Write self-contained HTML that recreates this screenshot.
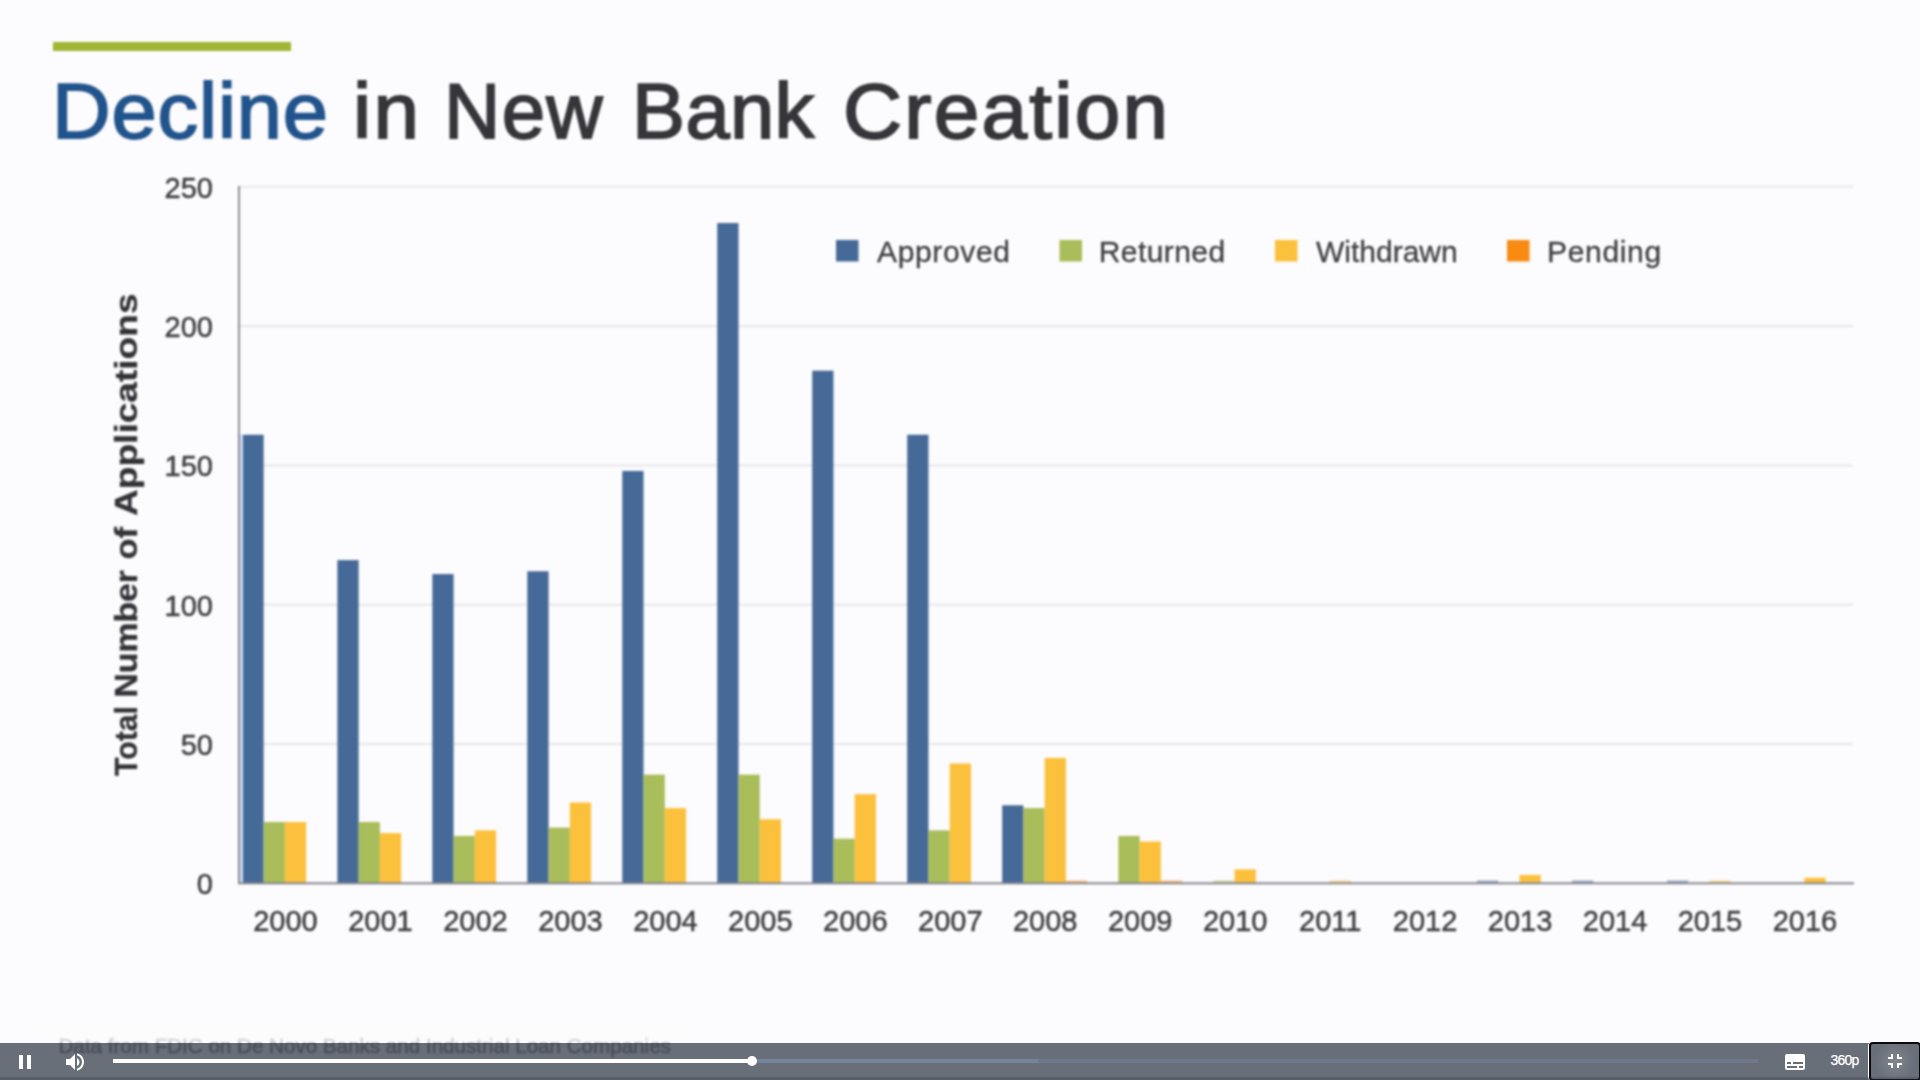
<!DOCTYPE html>
<html lang="en">
<head>
<meta charset="utf-8">
<title>Decline in New Bank Creation</title>
<style>
html,body{margin:0;padding:0;width:1920px;height:1080px;overflow:hidden;background:#fcfbfd;}
body{font-family:"Liberation Sans",sans-serif;position:relative;}
#slide{position:absolute;left:0;top:0;width:1920px;height:1080px;background:#fcfbfd;filter:blur(0.85px);}
#rule{position:absolute;left:53px;top:42px;width:238px;height:9px;background:#a0b533;}
#title{position:absolute;left:51px;top:62.5px;width:1200px;height:96px;margin:0;font-size:78px;line-height:96px;font-weight:400;color:#36353a;white-space:nowrap;letter-spacing:0px;-webkit-text-stroke:1.8px currentColor;}
#title span{position:absolute;top:0;display:inline-block;transform-origin:0 50%;}
#title .w1{color:#21548c;left:0.5px;letter-spacing:0.87px;transform:scaleX(1.04);}
#title .w2{left:302px;letter-spacing:2.2px;transform:scaleX(1.05);}
#title .w3{left:393px;letter-spacing:1.3px;}
#title .w4{left:580.5px;letter-spacing:0.33px;transform:scaleX(1.02);}
#title .w5{left:792px;letter-spacing:2.1px;transform:scaleX(1.05);}
#chart{position:absolute;left:0;top:0;}
.ax{font-family:"Liberation Sans",sans-serif;font-size:29px;fill:#403f44;stroke:#403f44;stroke-width:0.5px;}
.yt{font-family:"Liberation Sans",sans-serif;font-size:31px;font-weight:700;fill:#333237;stroke:#333237;stroke-width:0.3px;}
.lg{font-family:"Liberation Sans",sans-serif;font-size:30px;fill:#3e3d42;stroke:#3e3d42;stroke-width:0.3px;}
#src{position:absolute;left:58.5px;top:1031.5px;font-size:20.6px;line-height:28px;color:#8e8e95;white-space:nowrap;font-weight:400;-webkit-text-stroke:0.6px currentColor;}
#veil{position:absolute;left:40px;top:1026px;width:660px;height:17px;background:rgba(252,251,253,0.62);}
#bar{position:absolute;left:0;top:1043px;width:1920px;height:37px;background:rgba(43,51,63,0.7);}
#bar:after{content:"";position:absolute;left:0;right:0;bottom:0;height:4.5px;background:linear-gradient(rgba(43,51,63,0),rgba(43,51,63,0.3) 60%,rgba(43,51,63,0.3));}
.ic{position:absolute;top:6.5px;width:24px;height:24px;fill:#fff;}
#track{position:absolute;left:112.5px;top:16px;width:1645.5px;height:4px;background:rgba(115,133,159,0.5);}
#load{position:absolute;left:0;top:0;height:100%;width:925px;background:rgba(115,133,159,0.9);}
#play{position:absolute;left:0;top:0;height:100%;width:639px;background:#fff;}
#knob{position:absolute;left:634px;top:-3.2px;width:10.4px;height:10.4px;border-radius:50%;background:#fff;}
#q{position:absolute;left:1819.5px;top:0.3px;width:50px;height:37px;line-height:35px;-webkit-text-stroke:0.25px #fff;text-align:center;color:#fff;font-size:14px;letter-spacing:-0.75px;}
#fs{position:absolute;left:1869px;top:-1px;width:52px;height:39px;box-sizing:border-box;border:2px solid #0a0a0c;border-radius:4px;box-shadow:0 0 0 1px #fff;background:radial-gradient(circle at 50% 50%,rgba(255,255,255,0.17),rgba(255,255,255,0.05) 45%,rgba(255,255,255,0) 70%);}
</style>
</head>
<body>
<div id="slide">
<div id="rule"></div>
<h1 id="title"><span class="w1">Decline</span> <span class="w2">in</span> <span class="w3">New</span> <span class="w4">Bank</span> <span class="w5">Creation</span></h1>
<svg id="chart" width="1920" height="1080" viewBox="0 0 1920 1080">
<rect x="240" y="743.0" width="1613" height="2" fill="#e7e6ea"/>
<rect x="240" y="603.7" width="1613" height="2" fill="#e7e6ea"/>
<rect x="240" y="464.4" width="1613" height="2" fill="#e7e6ea"/>
<rect x="240" y="325.1" width="1613" height="2" fill="#e7e6ea"/>
<rect x="240" y="185.8" width="1613" height="2" fill="#e7e6ea"/>
<rect x="242.40" y="434.75" width="21.25" height="448.55" fill="#466a98"/>
<rect x="263.65" y="822.01" width="21.25" height="61.29" fill="#a9bd5a"/>
<rect x="284.90" y="822.01" width="21.25" height="61.29" fill="#fcc13c"/>
<rect x="337.37" y="560.12" width="21.25" height="323.18" fill="#466a98"/>
<rect x="358.62" y="822.01" width="21.25" height="61.29" fill="#a9bd5a"/>
<rect x="379.87" y="833.15" width="21.25" height="50.15" fill="#fcc13c"/>
<rect x="432.34" y="574.05" width="21.25" height="309.25" fill="#466a98"/>
<rect x="453.59" y="835.94" width="21.25" height="47.36" fill="#a9bd5a"/>
<rect x="474.84" y="830.37" width="21.25" height="52.93" fill="#fcc13c"/>
<rect x="527.31" y="571.27" width="21.25" height="312.03" fill="#466a98"/>
<rect x="548.56" y="827.58" width="21.25" height="55.72" fill="#a9bd5a"/>
<rect x="569.81" y="802.51" width="21.25" height="80.79" fill="#fcc13c"/>
<rect x="622.28" y="470.97" width="21.25" height="412.33" fill="#466a98"/>
<rect x="643.53" y="774.65" width="21.25" height="108.65" fill="#a9bd5a"/>
<rect x="664.78" y="808.08" width="21.25" height="75.22" fill="#fcc13c"/>
<rect x="717.25" y="223.02" width="21.25" height="660.28" fill="#466a98"/>
<rect x="738.50" y="774.65" width="21.25" height="108.65" fill="#a9bd5a"/>
<rect x="759.75" y="819.22" width="21.25" height="64.08" fill="#fcc13c"/>
<rect x="812.22" y="370.68" width="21.25" height="512.62" fill="#466a98"/>
<rect x="833.47" y="838.72" width="21.25" height="44.58" fill="#a9bd5a"/>
<rect x="854.72" y="794.15" width="21.25" height="89.15" fill="#fcc13c"/>
<rect x="907.19" y="434.75" width="21.25" height="448.55" fill="#466a98"/>
<rect x="928.44" y="830.37" width="21.25" height="52.93" fill="#a9bd5a"/>
<rect x="949.69" y="763.50" width="21.25" height="119.80" fill="#fcc13c"/>
<rect x="1002.16" y="805.29" width="21.25" height="78.01" fill="#466a98"/>
<rect x="1023.41" y="808.08" width="21.25" height="75.22" fill="#a9bd5a"/>
<rect x="1044.66" y="757.93" width="21.25" height="125.37" fill="#fcc13c"/>
<rect x="1065.91" y="880.51" width="21.25" height="2.79" fill="#f98a12" opacity="0.55"/>
<rect x="1118.38" y="835.94" width="21.25" height="47.36" fill="#a9bd5a"/>
<rect x="1139.63" y="841.51" width="21.25" height="41.79" fill="#fcc13c"/>
<rect x="1160.88" y="880.51" width="21.25" height="2.79" fill="#f98a12" opacity="0.55"/>
<rect x="1213.35" y="880.51" width="21.25" height="2.79" fill="#a9bd5a" opacity="0.55"/>
<rect x="1234.60" y="869.37" width="21.25" height="13.93" fill="#fcc13c"/>
<rect x="1329.57" y="880.51" width="21.25" height="2.79" fill="#fcc13c" opacity="0.55"/>
<rect x="1477.01" y="880.51" width="21.25" height="2.79" fill="#466a98" opacity="0.55"/>
<rect x="1519.51" y="874.94" width="21.25" height="8.36" fill="#fcc13c"/>
<rect x="1571.98" y="880.51" width="21.25" height="2.79" fill="#466a98" opacity="0.55"/>
<rect x="1666.95" y="880.51" width="21.25" height="2.79" fill="#466a98" opacity="0.55"/>
<rect x="1709.45" y="880.51" width="21.25" height="2.79" fill="#fcc13c" opacity="0.55"/>
<rect x="1804.42" y="877.73" width="21.25" height="5.57" fill="#fcc13c"/>
<rect x="240" y="434.8" width="3" height="448.5" fill="#c9dcf6"/>
<rect x="238" y="186" width="2" height="698" fill="#8b8b93"/>
<rect x="238" y="882.3" width="1616" height="2" fill="#85858f"/>
<text x="213" y="894.3" text-anchor="end" class="ax">0</text>
<text x="213" y="755.0" text-anchor="end" class="ax">50</text>
<text x="213" y="615.7" text-anchor="end" class="ax">100</text>
<text x="213" y="476.4" text-anchor="end" class="ax">150</text>
<text x="213" y="337.1" text-anchor="end" class="ax">200</text>
<text x="213" y="197.8" text-anchor="end" class="ax">250</text>
<text x="285.5" y="931" text-anchor="middle" class="ax">2000</text>
<text x="380.5" y="931" text-anchor="middle" class="ax">2001</text>
<text x="475.4" y="931" text-anchor="middle" class="ax">2002</text>
<text x="570.4" y="931" text-anchor="middle" class="ax">2003</text>
<text x="665.4" y="931" text-anchor="middle" class="ax">2004</text>
<text x="760.3" y="931" text-anchor="middle" class="ax">2005</text>
<text x="855.3" y="931" text-anchor="middle" class="ax">2006</text>
<text x="950.3" y="931" text-anchor="middle" class="ax">2007</text>
<text x="1045.2" y="931" text-anchor="middle" class="ax">2008</text>
<text x="1140.2" y="931" text-anchor="middle" class="ax">2009</text>
<text x="1235.2" y="931" text-anchor="middle" class="ax">2010</text>
<text x="1330.2" y="931" text-anchor="middle" class="ax">2011</text>
<text x="1425.1" y="931" text-anchor="middle" class="ax">2012</text>
<text x="1520.1" y="931" text-anchor="middle" class="ax">2013</text>
<text x="1615.1" y="931" text-anchor="middle" class="ax">2014</text>
<text x="1710.0" y="931" text-anchor="middle" class="ax">2015</text>
<text x="1805.0" y="931" text-anchor="middle" class="ax">2016</text>
<text transform="translate(137,776) rotate(-90)" class="yt" textLength="70" lengthAdjust="spacingAndGlyphs">Total</text>
<text transform="translate(137,697.5) rotate(-90)" class="yt" textLength="127.5" lengthAdjust="spacingAndGlyphs">Number</text>
<text transform="translate(137,559.5) rotate(-90)" class="yt" textLength="32.5" lengthAdjust="spacingAndGlyphs">of</text>
<text transform="translate(137,516) rotate(-90)" class="yt" textLength="222.5" lengthAdjust="spacingAndGlyphs">Applications</text>
<rect x="836" y="240" width="22.5" height="21.5" fill="#466a98"/>
<text x="877" y="261.5" class="lg" style="letter-spacing:0.64px">Approved</text>
<rect x="1059.5" y="240" width="22.5" height="21.5" fill="#a9bd5a"/>
<text x="1098.7" y="261.5" class="lg" style="letter-spacing:0.43px">Returned</text>
<rect x="1275" y="240" width="22.5" height="21.5" fill="#fcc13c"/>
<text x="1316" y="261.5" class="lg" style="letter-spacing:0px">Withdrawn</text>
<rect x="1507" y="240" width="22.5" height="21.5" fill="#f98a12"/>
<text x="1547" y="261.5" class="lg" style="letter-spacing:0.67px">Pending</text>
</svg>
<div id="src">Data from FDIC on De Novo Banks and Industrial Loan Companies</div>
<div id="veil"></div>
</div>
<div id="bar">
<svg class="ic" style="left:13px" viewBox="0 0 24 24"><path d="M6 19h4V5H6v14zm8-14v14h4V5h-4z"/></svg>
<svg class="ic" style="left:63px" viewBox="0 0 24 24"><path d="M3 9v6h4l5 5V4L7 9H3zm13.500 3c0-1.770-1.020-3.290-2.500-4.030v8.050c1.480-.730 2.500-2.250 2.500-4.020zM14 3.230v2.060c2.890.860 5 3.540 5 6.710s-2.110 5.850-5 6.710v2.060c4.010-.910 7-4.490 7-8.770s-2.990-7.860-7-8.770z"/></svg>
<div id="track"><div id="load"></div><div id="play"></div><div id="knob"></div></div>
<svg class="ic" style="left:1783px" viewBox="0 0 24 24"><path d="M20 4H4c-1.100 0-2 .900-2 2v12c0 1.100.900 2 2 2h16c1.100 0 2-.900 2-2V6c0-1.100-.900-2-2-2zM4 12h4v2H4v-2zm10 6H4v-2h10v2zm6 0h-4v-2h4v2zm0-4H10v-2h10v2z"/></svg>
<div id="q">360p</div>
<div id="fs"><svg class="ic" style="left:12.2px;top:5px" viewBox="0 0 24 24"><path d="M5 16h3v3h2v-5H5v2zm3-8H5v2h5V5H8v3zm6 11h2v-3h3v-2h-5v5zm2-11V5h-2v5h5V8h-3z"/></svg></div>
</div>
</body>
</html>
